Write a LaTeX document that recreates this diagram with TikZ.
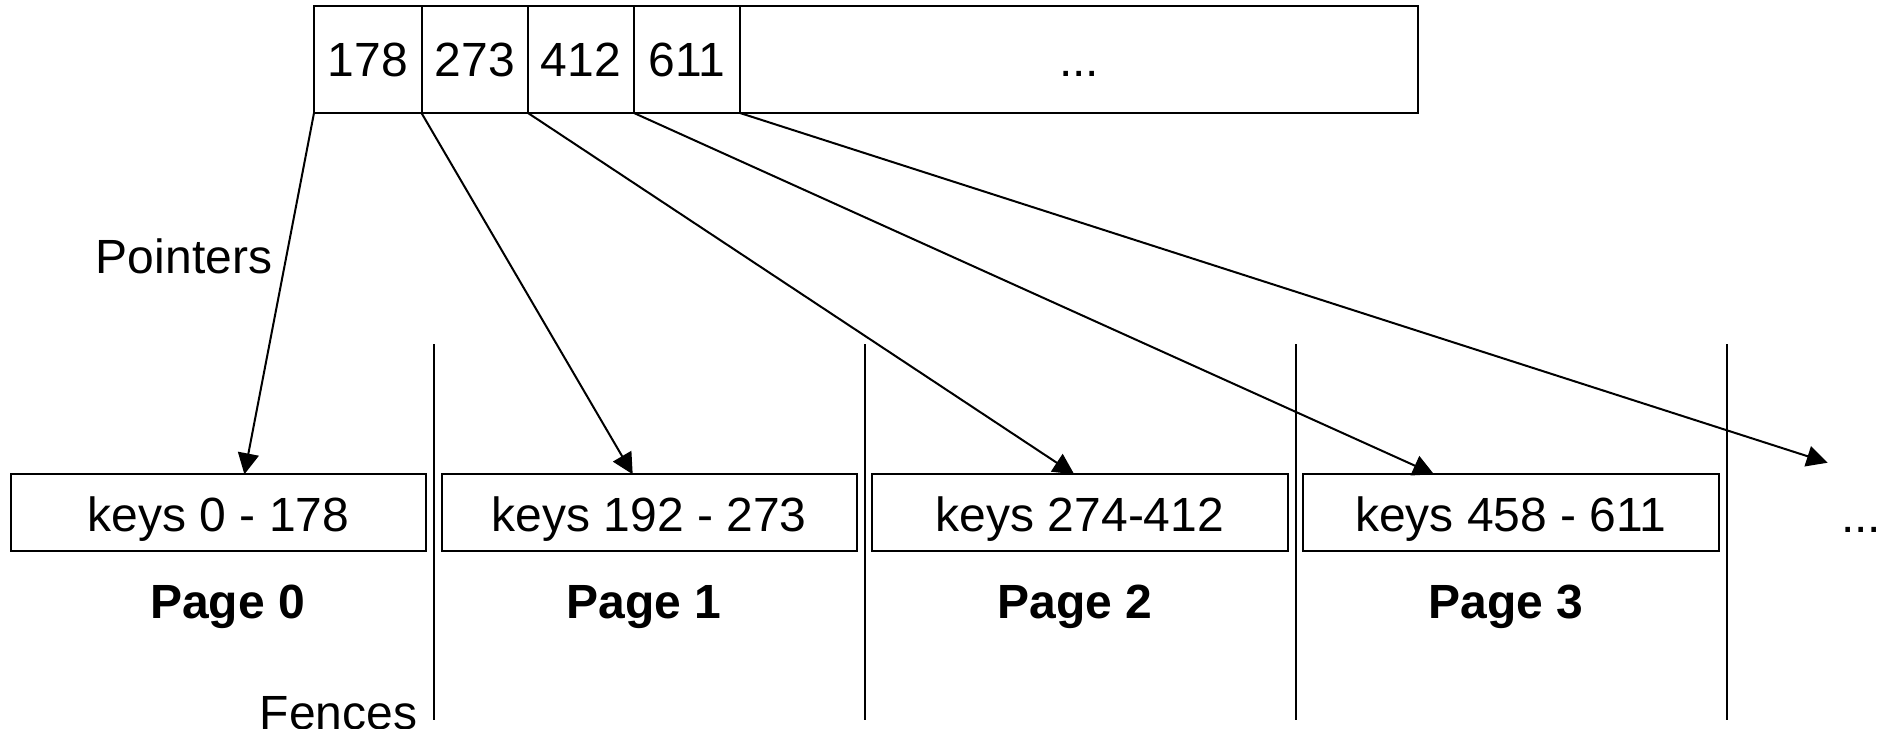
\documentclass[tikz,border=0pt]{standalone}
\usepackage{fontspec}
\setmainfont{Liberation Sans}
\usetikzlibrary{arrows.meta}

\begin{document}
\begin{tikzpicture}[x=0.5pt, y=-0.5pt, line width=1pt,
  every node/.style={font=\fontsize{24pt}{28pt}\selectfont, inner sep=0pt, outer sep=0pt},
  cellbox/.style={draw, minimum height=53.5pt, text height=16.5pt, text depth=0pt},
  keybox/.style={draw, minimum width=207.6pt, minimum height=38.2pt, text height=18.5pt, text depth=0pt},
  pagelabel/.style={anchor=base, font=\fontsize{24pt}{28pt}\selectfont\bfseries},
  plain/.style={anchor=base},
  fence/.style={line width=1pt},
  ptr/.style={-{Triangle[length=10.5pt, width=10.5pt]}, line width=1pt}]

\useasboundingbox (0,0) rectangle (1887,729);

% index cells across the top
\node[cellbox, minimum width=53.75pt] (c0) at (367.75,59.5) {178};
\node[cellbox, minimum width=53.25pt] (c1) at (474.75,59.5) {273};
\node[cellbox, minimum width=53pt]    (c2) at (581,59.5) {412};
\node[cellbox, minimum width=53pt]    (c3) at (687,59.5) {611};
\node[cellbox, minimum width=339pt]   (rest) at (1079,59.5) {...};

% data pages
\node[keybox] (p0) at (218.4,512.5) {keys 0 - 178};
\node[keybox] (p1) at (649.2,512.5) {keys 192 - 273};
\node[keybox] (p2) at (1080.05,512.5) {keys 274-412};
\node[keybox] (p3) at (1510.9,512.5) {keys 458 - 611};
\node[plain] (more) at (1861,532) {...};

% page captions
\node[pagelabel] (l0) at (227.5,618) {Page 0};
\node[pagelabel] (l1) at (644,618) {Page 1};
\node[pagelabel] (l2) at (1075,618) {Page 2};
\node[pagelabel] (l3) at (1506,618) {Page 3};

% side labels
\node[plain] (ptrlabel) at (184,273) {Pointers};
\node[plain] (fencelabel) at (338.5,729) {Fences};

% fences between pages
\foreach \fx in {434.4, 865.2, 1296, 1727}
  \draw[fence] (\fx,344) -- (\fx,720);

% pointers from the index to the pages
\coordinate (nextpage) at (1827.7,462.7);
\draw[ptr] (c0.south west) -- ([xshift=116.8pt]p0.north west);
\draw[ptr] (c1.south west) -- ([xshift=95.55pt]p1.north west);
\draw[ptr] (c2.south west) -- ([xshift=100.9pt]p2.north west);
\draw[ptr] (c3.south west) -- ([xshift=65.35pt]p3.north west);
\draw[ptr] (rest.south west) -- (nextpage);

\end{tikzpicture}
\end{document}
